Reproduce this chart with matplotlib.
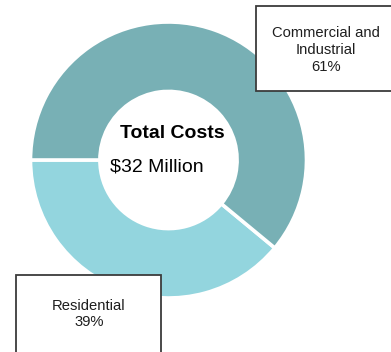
import matplotlib
matplotlib.use("Agg")
import matplotlib.pyplot as plt
from matplotlib.patches import Rectangle

plt.rcParams["font.family"] = ["Liberation Sans", "DejaVu Sans"]

# Datos
segments = ["Residential", "Commercial and\nIndustrial"]
shares = [39, 61]
total_title = "Total Costs"
total_value = "$32 Million"

C_RES = "#93D5DE"
C_COM = "#78B0B5"
C_TEXT = "#1E1E1E"
C_BOX = "#3C3C3C"

W, H = 391, 352
fig = plt.figure(figsize=(W / 100, H / 100), dpi=100)
ax = fig.add_axes([0, 0, 1, 1])

# coordenadas en pixeles, y hacia arriba
CX, CY, R = 168.5, H - 160, 138
ax.pie(shares, colors=[C_RES, C_COM], startangle=180, counterclock=True,
       center=(CX, CY), radius=R,
       wedgeprops=dict(width=R * 0.503, edgecolor="white", linewidth=2.6))
ax.set_xlim(0, W)
ax.set_ylim(0, H)
ax.set_aspect("auto")
ax.set_axis_off()


def py(y):
    return H - y


def label_box(x0, y0, x1, y1):
    ax.add_patch(Rectangle((x0, py(y1)), x1 - x0, y1 - y0,
                           facecolor="white", edgecolor=C_BOX,
                           linewidth=1.3, zorder=5, clip_on=False))


# caja Commercial and Industrial
label_box(256, 6, 400, 91)
com_lines = segments[1].split("\n") + [f"{shares[1]}%"]
for txt, y in zip(com_lines, [33, 50, 67]):
    ax.text(326, py(y), txt, ha="center", va="center", fontsize=10.6,
            color=C_TEXT, zorder=6)

# caja Residential
label_box(16, 275, 161, 360)
for txt, y in zip([segments[0], f"{shares[0]}%"], [306.5, 322.5]):
    ax.text(89, py(y), txt, ha="center", va="center", fontsize=10.6,
            color=C_TEXT, zorder=6)

# texto central
ax.text(172.5, py(134), total_title, ha="center", va="center",
        fontsize=14, fontweight="bold", color="black")
ax.text(110, py(167), total_value, ha="left", va="center",
        fontsize=14, color="black")

fig.savefig("out.png", dpi=100)
